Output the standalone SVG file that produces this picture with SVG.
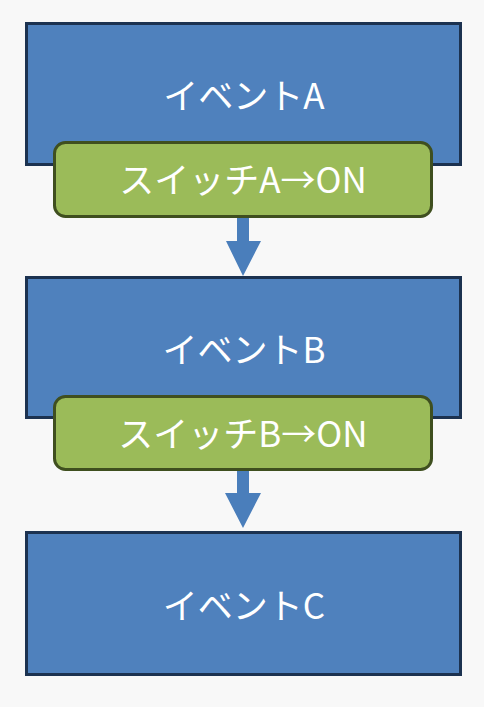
<svg xmlns="http://www.w3.org/2000/svg" width="484" height="707" viewBox="0 0 484 707">
<style>
.ev{fill:#4f81bd;stroke:#1c3250;stroke-width:3}
.sw{fill:#9bbb59;stroke:#3f4f1f;stroke-width:3}
.t{fill:#fff;font-family:"Noto Sans CJK JP","Noto Sans",sans-serif;font-size:35px;text-anchor:middle;font-weight:normal}
.ar{fill:#4a7ebb}
</style>
<rect width="484" height="707" fill="#f8f8f8"/>
<g id="eventA"><rect class="ev" x="26.5" y="23.5" width="434" height="141"/><text class="t" x="244" y="109">イベントA</text></g>
<g id="eventB"><rect class="ev" x="26.5" y="277.5" width="434" height="140"/><text class="t" x="244" y="363">イベントB</text></g>
<g id="eventC"><rect class="ev" x="26.5" y="532.5" width="434" height="142"/><text class="t" x="244" y="619">イベントC</text></g>
<g id="switchA"><rect class="sw" x="54.5" y="142.5" width="377" height="74" rx="11"/><text class="t" x="243" y="193">スイッチA→ON</text></g>
<g id="switchB"><rect class="sw" x="54.5" y="396.5" width="377" height="73" rx="11"/><text class="t" x="243" y="447">スイッチB→ON</text></g>
<g id="connectors">
<polygon class="ar" points="237,218 249,218 249,241 261,241 243,276 226,241 237,241"/>
<polygon class="ar" points="237,471 249,471 249,493 261,493 243,528 225,493 237,493"/>
</g>
</svg>
